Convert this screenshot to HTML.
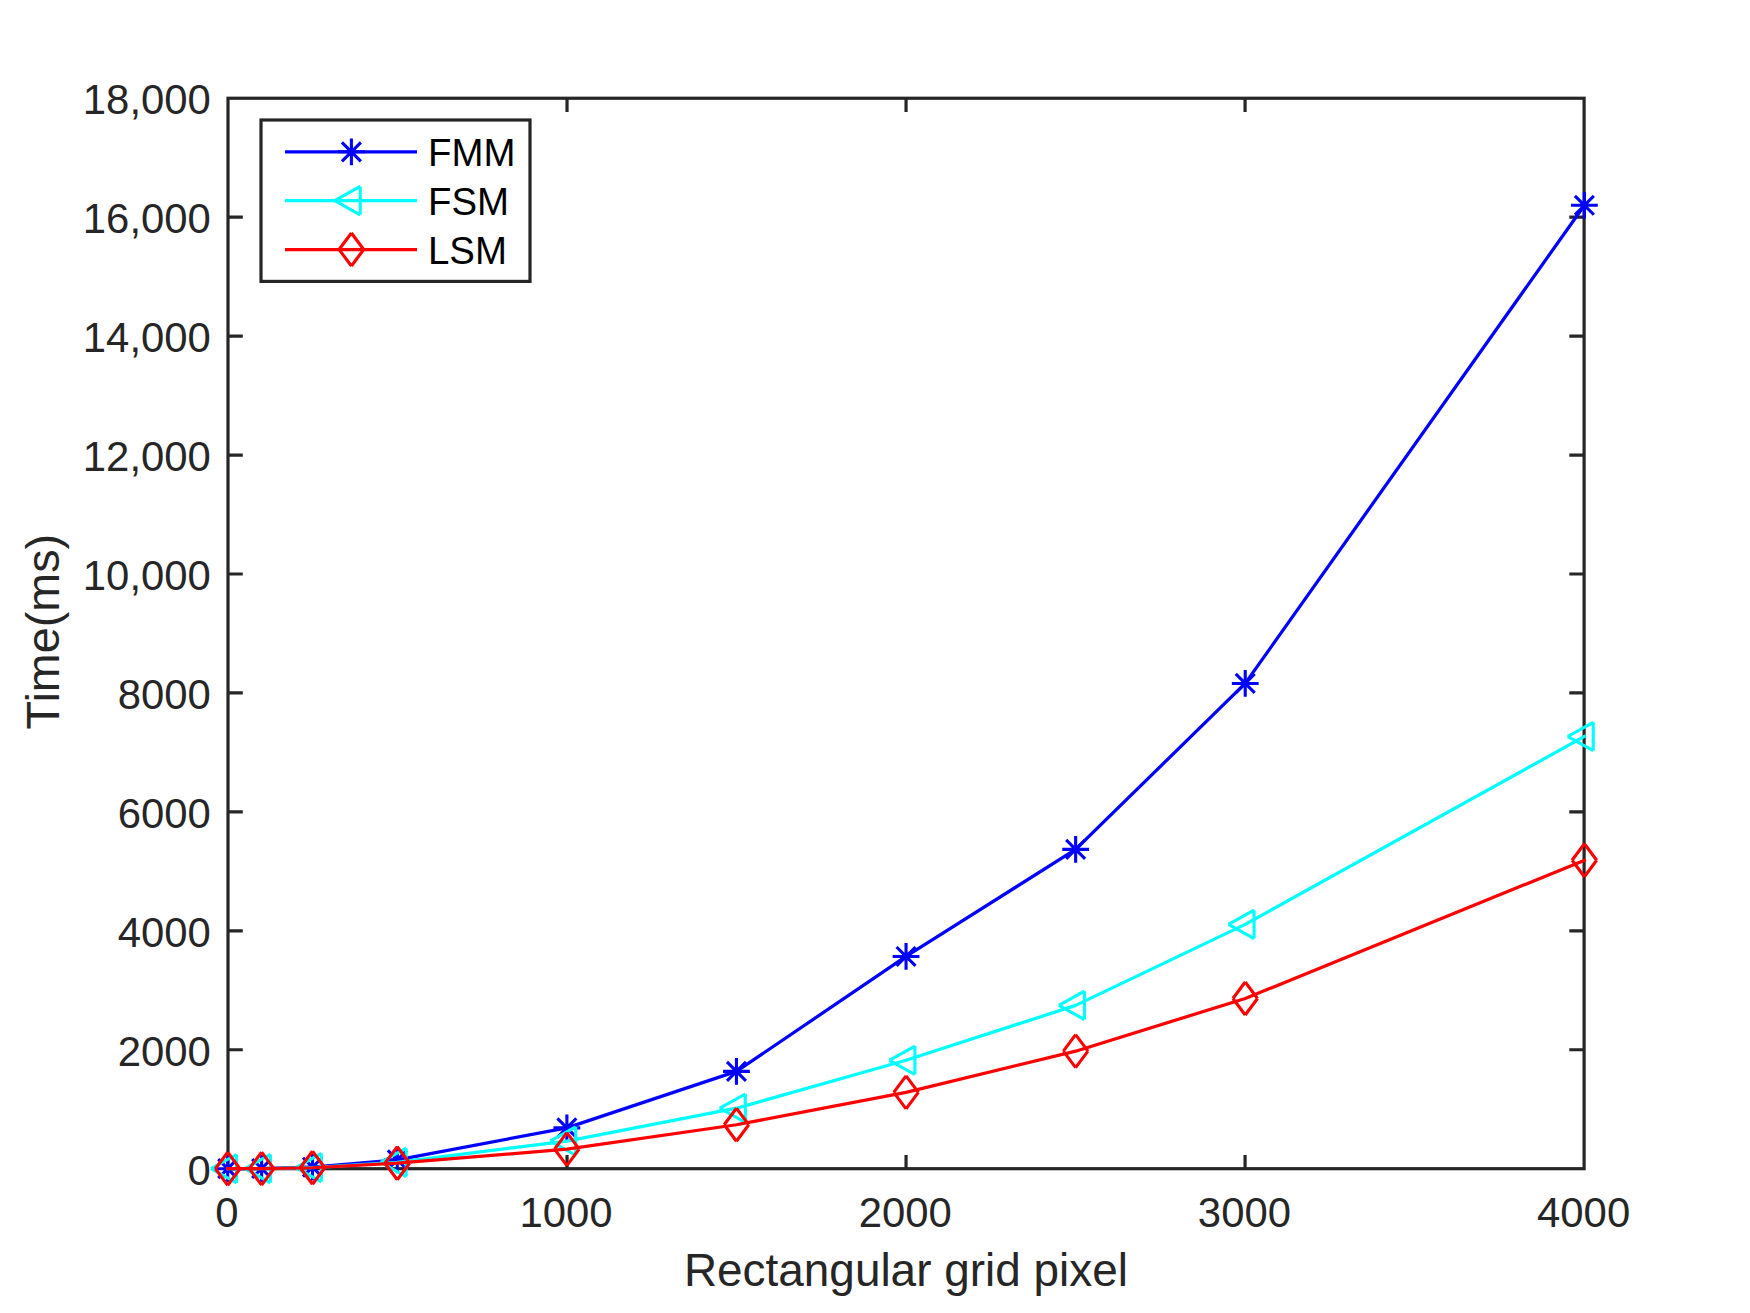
<!DOCTYPE html>
<html><head><meta charset="utf-8"><title>Time vs Rectangular grid pixel</title>
<style>html,body{margin:0;padding:0;background:#fff}body{width:1750px;height:1313px;overflow:hidden}svg{display:block}text{font-family:"Liberation Sans",Arial,Helvetica,sans-serif}</style></head><body>
<svg width="1750" height="1313" viewBox="0 0 1750 1313">
<rect width="1750" height="1313" fill="#fff"/>
<path d="M567.02 1168.7V1155M567.02 98.25V111.95M906.05 1168.7V1155M906.05 98.25V111.95M1245.07 1168.7V1155M1245.07 98.25V111.95M228 1049.76H242.8M1584.1 1049.76H1569.3M228 930.82H242.8M1584.1 930.82H1569.3M228 811.88H242.8M1584.1 811.88H1569.3M228 692.94H242.8M1584.1 692.94H1569.3M228 574.01H242.8M1584.1 574.01H1569.3M228 455.07H242.8M1584.1 455.07H1569.3M228 336.13H242.8M1584.1 336.13H1569.3M228 217.19H242.8M1584.1 217.19H1569.3" stroke="#262626" stroke-width="3.2" fill="none"/>
<rect x="228" y="98.25" width="1356.1" height="1070.45" fill="none" stroke="#262626" stroke-width="3.2"/>
<g fill="#262626" font-size="41.67">
<text transform="translate(210.9 1184.9) scale(1.005 1.04)" text-anchor="end">0</text>
<text transform="translate(210.9 1065.96) scale(1.005 1.04)" text-anchor="end">2000</text>
<text transform="translate(210.9 947.02) scale(1.005 1.04)" text-anchor="end">4000</text>
<text transform="translate(210.9 828.08) scale(1.005 1.04)" text-anchor="end">6000</text>
<text transform="translate(210.9 709.14) scale(1.005 1.04)" text-anchor="end">8000</text>
<text transform="translate(210.9 590.21) scale(1.005 1.04)" text-anchor="end">10,000</text>
<text transform="translate(210.9 471.27) scale(1.005 1.04)" text-anchor="end">12,000</text>
<text transform="translate(210.9 352.33) scale(1.005 1.04)" text-anchor="end">14,000</text>
<text transform="translate(210.9 233.39) scale(1.005 1.04)" text-anchor="end">16,000</text>
<text transform="translate(210.9 114.45) scale(1.005 1.04)" text-anchor="end">18,000</text>
<text transform="translate(226.9 1226.9) scale(1.005 1.03)" text-anchor="middle">0</text>
<text transform="translate(566.08 1226.9) scale(1.005 1.03)" text-anchor="middle">1000</text>
<text transform="translate(905.25 1226.9) scale(1.005 1.03)" text-anchor="middle">2000</text>
<text transform="translate(1244.43 1226.9) scale(1.005 1.03)" text-anchor="middle">3000</text>
<text transform="translate(1583.6 1226.9) scale(1.005 1.03)" text-anchor="middle">4000</text>
</g>
<g fill="#262626" font-size="45.83">
<text transform="translate(905.9 1286) scale(1.002 1.01)" text-anchor="middle">Rectangular grid pixel</text>
<text transform="translate(58.8 631.6) rotate(-90) scale(1.02 1.015)" text-anchor="middle">Time(ms)</text>
</g>
<polyline points="227.7,1168.7 261.62,1168.52 312.49,1167.21 397.29,1159.78 566.88,1127.9 736.46,1071.41 906.05,956.45 1075.64,849.35 1245.23,683.43 1584.4,205.29" fill="none" stroke="#0000ff" stroke-width="3.25" stroke-linejoin="round" stroke-linecap="square"/>
<path d="M214.3 1168.7H241.1M227.7 1155.3V1182.1M218.22 1159.22L237.18 1178.18M218.22 1178.18L237.18 1159.22" stroke="#0000ff" stroke-width="3.1" fill="none"/>
<path d="M248.22 1168.52H275.02M261.62 1155.12V1181.92M252.14 1159.05L271.09 1178M252.14 1178L271.09 1159.05" stroke="#0000ff" stroke-width="3.1" fill="none"/>
<path d="M299.09 1167.21H325.89M312.49 1153.81V1180.61M303.02 1157.74L321.97 1176.69M303.02 1176.69L321.97 1157.74" stroke="#0000ff" stroke-width="3.1" fill="none"/>
<path d="M383.89 1159.78H410.69M397.29 1146.38V1173.18M387.81 1150.3L406.76 1169.25M387.81 1169.25L406.76 1150.3" stroke="#0000ff" stroke-width="3.1" fill="none"/>
<path d="M553.48 1127.9H580.27M566.88 1114.5V1141.3M557.4 1118.43L576.35 1137.38M557.4 1137.38L576.35 1118.43" stroke="#0000ff" stroke-width="3.1" fill="none"/>
<path d="M723.06 1071.41H749.86M736.46 1058.01V1084.81M726.99 1061.93L745.94 1080.88M726.99 1080.88L745.94 1061.93" stroke="#0000ff" stroke-width="3.1" fill="none"/>
<path d="M892.65 956.45H919.45M906.05 943.05V969.85M896.57 946.98L915.53 965.93M896.57 965.93L915.53 946.98" stroke="#0000ff" stroke-width="3.1" fill="none"/>
<path d="M1062.24 849.35H1089.04M1075.64 835.95V862.75M1066.16 839.87L1085.11 858.82M1066.16 858.82L1085.11 839.87" stroke="#0000ff" stroke-width="3.1" fill="none"/>
<path d="M1231.83 683.43H1258.63M1245.23 670.03V696.83M1235.75 673.95L1254.7 692.9M1235.75 692.9L1254.7 673.95" stroke="#0000ff" stroke-width="3.1" fill="none"/>
<path d="M1571 205.29H1597.8M1584.4 191.89V218.69M1574.92 195.82L1593.88 214.77M1574.92 214.77L1593.88 195.82" stroke="#0000ff" stroke-width="3.1" fill="none"/>
<polyline points="227.7,1168.7 261.62,1168.58 312.49,1167.63 397.29,1162.4 566.88,1141.05 736.46,1108.22 906.05,1060.29 1075.64,1005.4 1245.23,924.4 1584.4,736.48" fill="none" stroke="#00ffff" stroke-width="3.25" stroke-linejoin="round" stroke-linecap="square"/>
<path d="M236.55 1154.5L236.55 1182.9M236.55 1182.9L211 1168.7M211 1168.7L236.55 1154.5" stroke="#00ffff" stroke-width="3.1" fill="none"/>
<path d="M270.47 1154.38L270.47 1182.78M270.47 1182.78L244.92 1168.58M244.92 1168.58L270.47 1154.38" stroke="#00ffff" stroke-width="3.1" fill="none"/>
<path d="M321.34 1153.43L321.34 1181.83M321.34 1181.83L295.79 1167.63M295.79 1167.63L321.34 1153.43" stroke="#00ffff" stroke-width="3.1" fill="none"/>
<path d="M406.14 1148.2L406.14 1176.6M406.14 1176.6L380.59 1162.4M380.59 1162.4L406.14 1148.2" stroke="#00ffff" stroke-width="3.1" fill="none"/>
<path d="M575.73 1126.85L575.73 1155.25M575.73 1155.25L550.17 1141.05M550.17 1141.05L575.73 1126.85" stroke="#00ffff" stroke-width="3.1" fill="none"/>
<path d="M745.31 1094.02L745.31 1122.42M745.31 1122.42L719.76 1108.22M719.76 1108.22L745.31 1094.02" stroke="#00ffff" stroke-width="3.1" fill="none"/>
<path d="M914.9 1046.09L914.9 1074.49M914.9 1074.49L889.35 1060.29M889.35 1060.29L914.9 1046.09" stroke="#00ffff" stroke-width="3.1" fill="none"/>
<path d="M1084.49 991.2L1084.49 1019.6M1084.49 1019.6L1058.94 1005.4M1058.94 1005.4L1084.49 991.2" stroke="#00ffff" stroke-width="3.1" fill="none"/>
<path d="M1254.08 910.2L1254.08 938.6M1254.08 938.6L1228.53 924.4M1228.53 924.4L1254.08 910.2" stroke="#00ffff" stroke-width="3.1" fill="none"/>
<path d="M1593.25 722.28L1593.25 750.68M1593.25 750.68L1567.7 736.48M1567.7 736.48L1593.25 722.28" stroke="#00ffff" stroke-width="3.1" fill="none"/>
<polyline points="227.7,1168.7 261.62,1168.58 312.49,1167.75 397.29,1163.23 566.88,1149.13 736.46,1124.75 906.05,1092.4 1075.64,1051.19 1245.23,998.5 1584.4,860.29" fill="none" stroke="#ff0000" stroke-width="3.25" stroke-linejoin="round" stroke-linecap="square"/>
<path d="M227.7 1152.2L240 1168.7M240 1168.7L227.7 1185.2M227.7 1185.2L215.4 1168.7M215.4 1168.7L227.7 1152.2" stroke="#ff0000" stroke-width="3.1" fill="none"/>
<path d="M261.62 1152.08L273.92 1168.58M273.92 1168.58L261.62 1185.08M261.62 1185.08L249.32 1168.58M249.32 1168.58L261.62 1152.08" stroke="#ff0000" stroke-width="3.1" fill="none"/>
<path d="M312.49 1151.25L324.79 1167.75M324.79 1167.75L312.49 1184.25M312.49 1184.25L300.19 1167.75M300.19 1167.75L312.49 1151.25" stroke="#ff0000" stroke-width="3.1" fill="none"/>
<path d="M397.29 1146.73L409.59 1163.23M409.59 1163.23L397.29 1179.73M397.29 1179.73L384.99 1163.23M384.99 1163.23L397.29 1146.73" stroke="#ff0000" stroke-width="3.1" fill="none"/>
<path d="M566.88 1132.63L579.17 1149.13M579.17 1149.13L566.88 1165.63M566.88 1165.63L554.58 1149.13M554.58 1149.13L566.88 1132.63" stroke="#ff0000" stroke-width="3.1" fill="none"/>
<path d="M736.46 1108.25L748.76 1124.75M748.76 1124.75L736.46 1141.25M736.46 1141.25L724.16 1124.75M724.16 1124.75L736.46 1108.25" stroke="#ff0000" stroke-width="3.1" fill="none"/>
<path d="M906.05 1075.9L918.35 1092.4M918.35 1092.4L906.05 1108.9M906.05 1108.9L893.75 1092.4M893.75 1092.4L906.05 1075.9" stroke="#ff0000" stroke-width="3.1" fill="none"/>
<path d="M1075.64 1034.69L1087.94 1051.19M1087.94 1051.19L1075.64 1067.69M1075.64 1067.69L1063.34 1051.19M1063.34 1051.19L1075.64 1034.69" stroke="#ff0000" stroke-width="3.1" fill="none"/>
<path d="M1245.23 982L1257.53 998.5M1257.53 998.5L1245.23 1015M1245.23 1015L1232.93 998.5M1232.93 998.5L1245.23 982" stroke="#ff0000" stroke-width="3.1" fill="none"/>
<path d="M1584.4 843.79L1596.7 860.29M1596.7 860.29L1584.4 876.79M1584.4 876.79L1572.1 860.29M1572.1 860.29L1584.4 843.79" stroke="#ff0000" stroke-width="3.1" fill="none"/>
<rect x="261" y="120" width="269" height="161.4" fill="#fff" stroke="#262626" stroke-width="3.2"/>
<path d="M285 151.8H417" stroke="#0000ff" stroke-width="3.25"/>
<path d="M338 151.8H364.8M351.4 138.4V165.2M341.92 142.32L360.88 161.28M341.92 161.28L360.88 142.32" stroke="#0000ff" stroke-width="3.1" fill="none"/>
<text transform="translate(428 165.8) scale(1.024 1.03)" font-size="37.5" fill="#000">FMM</text>
<path d="M285 200.6H417" stroke="#00ffff" stroke-width="3.25"/>
<path d="M360.25 186.4L360.25 214.8M360.25 214.8L334.7 200.6M334.7 200.6L360.25 186.4" stroke="#00ffff" stroke-width="3.1" fill="none"/>
<text transform="translate(428 214.6) scale(1.024 1.03)" font-size="37.5" fill="#000">FSM</text>
<path d="M285 249.5H417" stroke="#ff0000" stroke-width="3.25"/>
<path d="M351.4 233L363.7 249.5M363.7 249.5L351.4 266M351.4 266L339.1 249.5M339.1 249.5L351.4 233" stroke="#ff0000" stroke-width="3.1" fill="none"/>
<text transform="translate(428 263.5) scale(1.024 1.03)" font-size="37.5" fill="#000">LSM</text>
</svg></body></html>
